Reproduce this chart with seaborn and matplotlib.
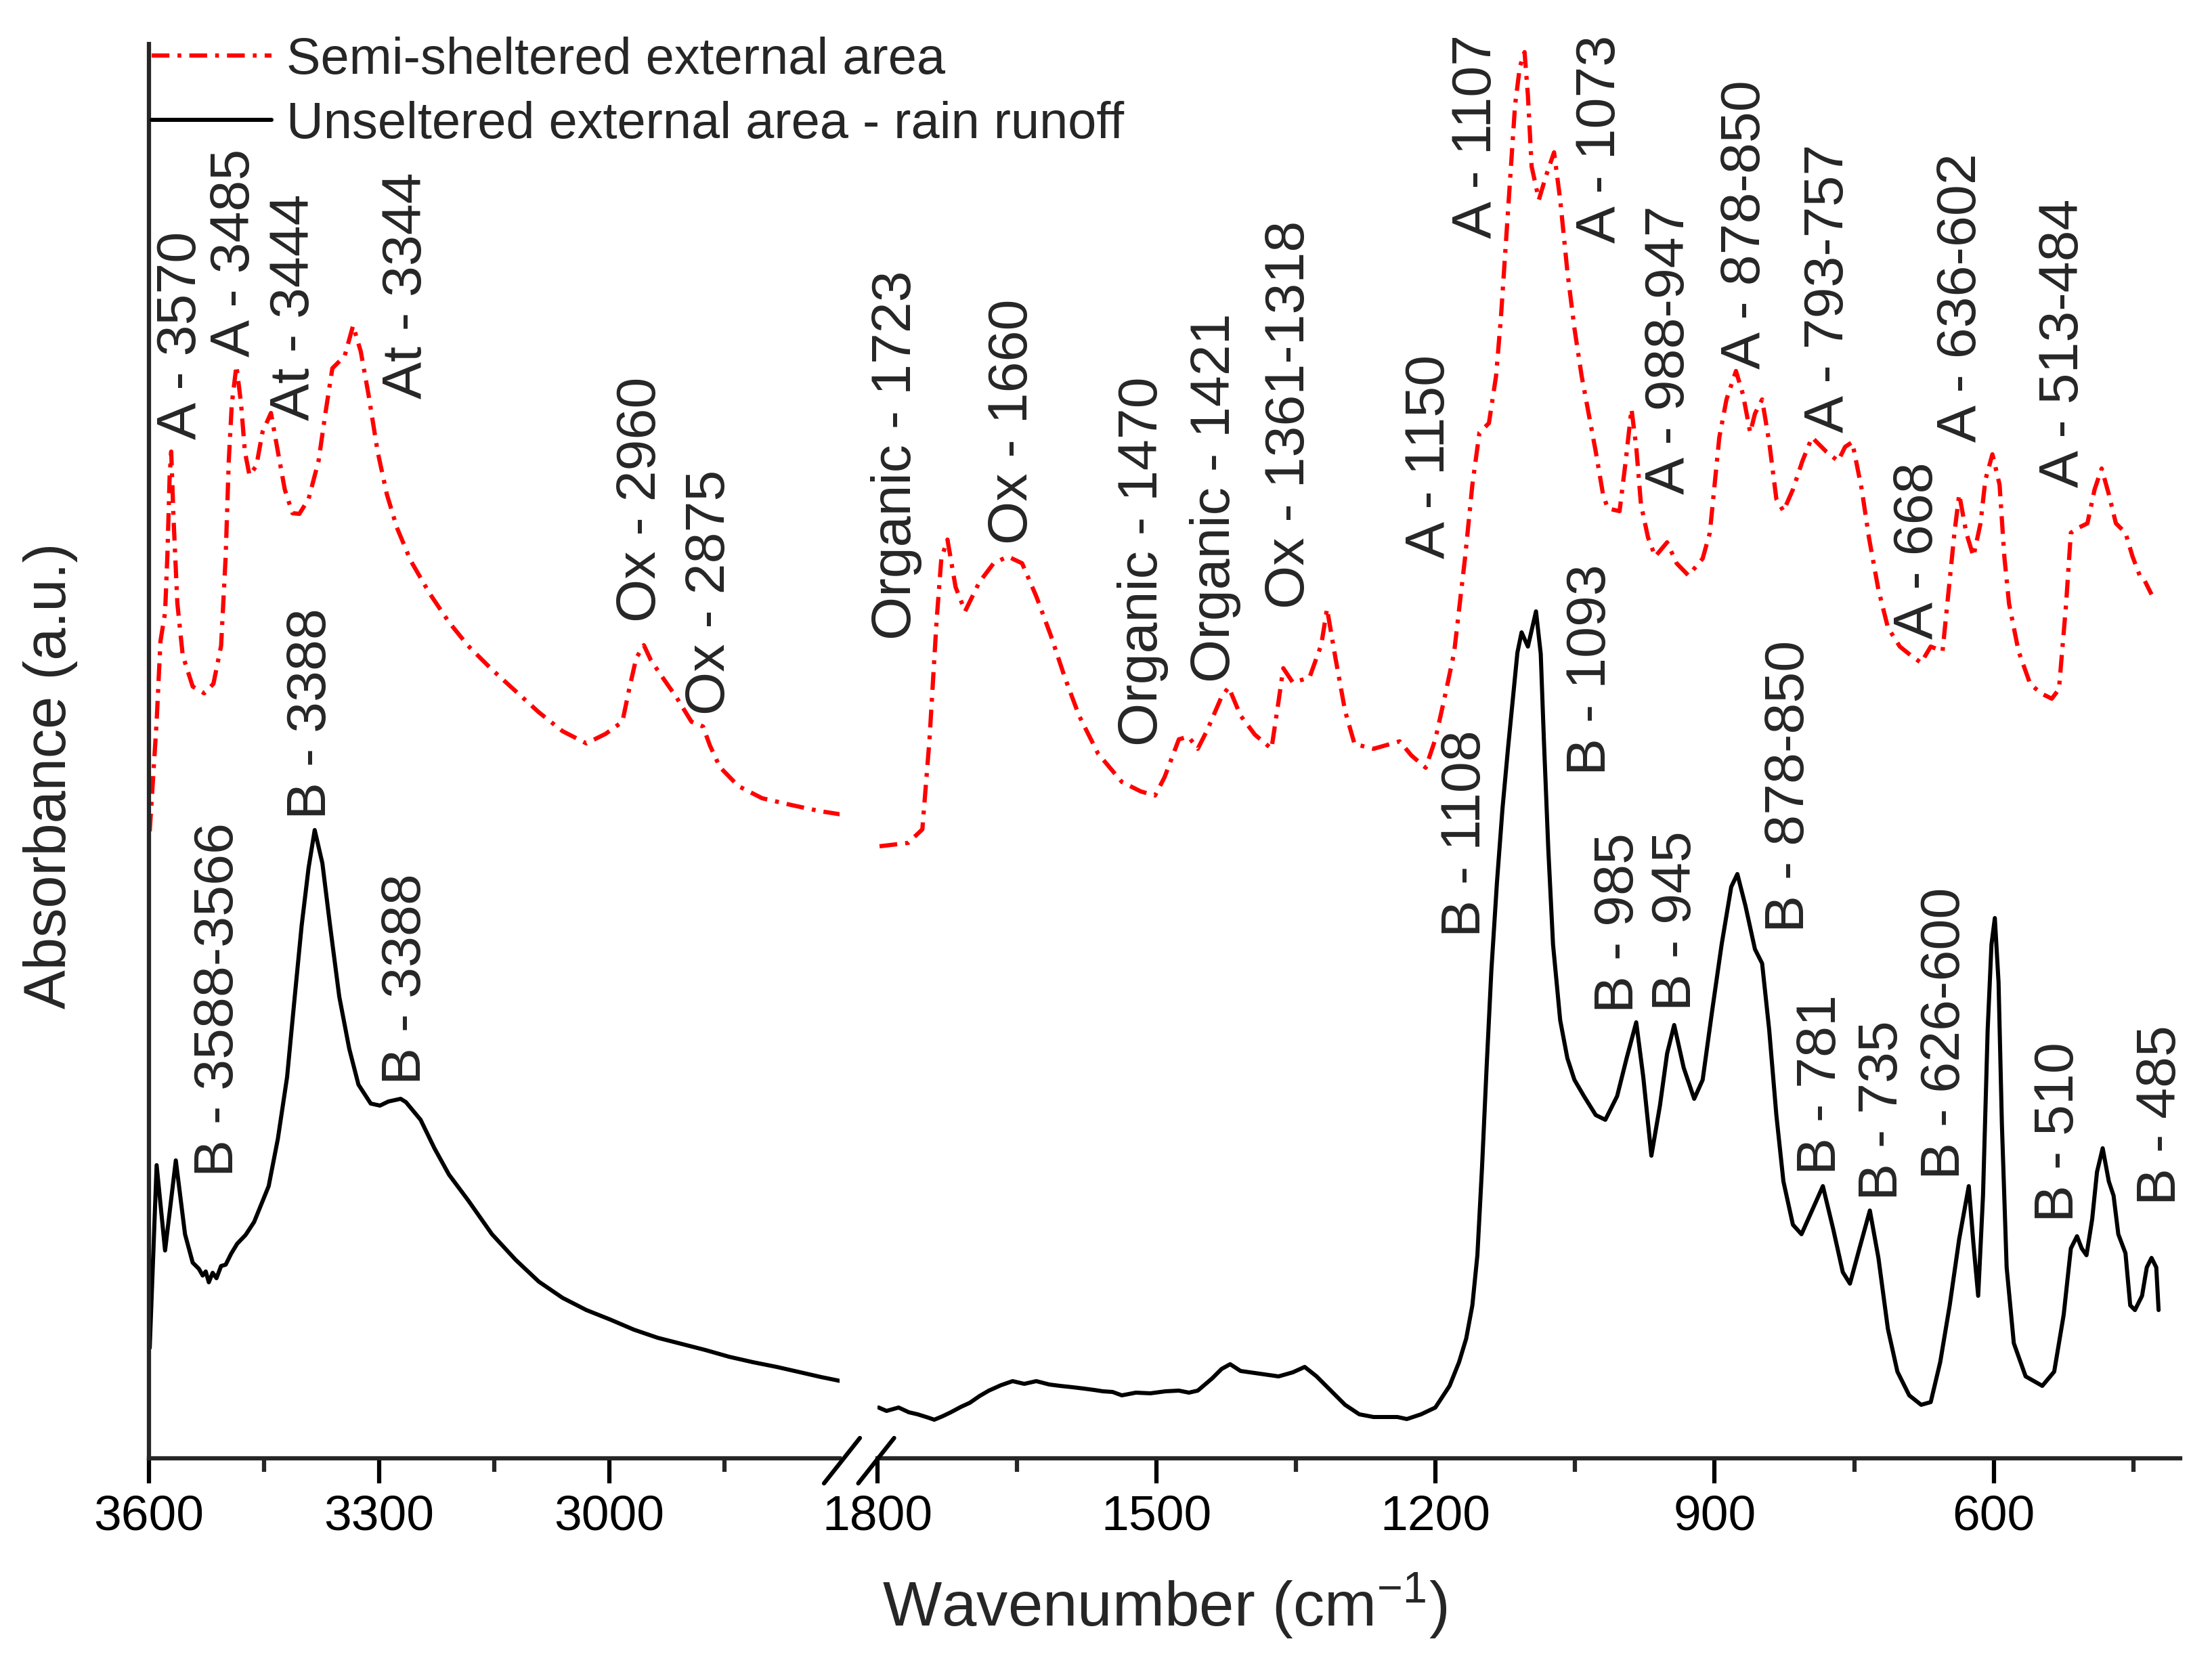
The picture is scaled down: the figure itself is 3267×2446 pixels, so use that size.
import numpy as np
import pandas as pd
import matplotlib
matplotlib.use("Agg")
import matplotlib.pyplot as plt
from matplotlib.lines import Line2D
from matplotlib.ticker import FixedLocator
import seaborn as sns

# ---------------- data ----------------
# Semi-sheltered external area (red, dash-dot) -- high wavenumber segment
red_hi_wn = [3599, 3590, 3585, 3579, 3576, 3573, 3571, 3568, 3563, 3556, 3543, 3528,
             3516, 3506, 3500, 3496, 3492, 3486, 3480, 3475, 3469, 3460, 3452, 3441,
             3432, 3423, 3413, 3404, 3392, 3379, 3370, 3361, 3345, 3334, 3324, 3314,
             3302, 3290, 3277, 3259, 3234, 3209, 3184, 3153, 3122, 3092, 3061, 3030,
             3005, 2983, 2974, 2965, 2955, 2946, 2931, 2912, 2893, 2878, 2869, 2856,
             2832, 2801, 2763, 2726, 2698]
red_hi_abs = [9.26, 10.88, 12.07, 12.49, 13.33, 14.52, 14.87, 13.89, 12.63, 11.86, 11.40, 11.30,
              11.44, 12.00, 13.33, 14.73, 15.58, 16.14, 15.58, 14.87, 14.52, 14.66, 15.16, 15.44,
              14.87, 14.31, 13.96, 13.95, 14.17, 14.73, 15.44, 16.10, 16.28, 16.73, 16.35, 15.72,
              14.87, 14.24, 13.75, 13.26, 12.77, 12.35, 12.00, 11.65, 11.33, 11.02, 10.74, 10.56,
              10.70, 10.88, 11.37, 11.82, 12.01, 11.79, 11.54, 11.23, 10.88, 10.81, 10.53, 10.21,
              9.93, 9.75, 9.65, 9.56, 9.51]

# Semi-sheltered external area -- low wavenumber segment
red_lo_wn = [1797.5, 1766.8, 1751.5, 1743.8, 1736.2, 1731.1, 1724.5, 1715.8, 1705.6, 1690.3,
             1674.9, 1659.6, 1644.3, 1629.0, 1613.6, 1598.3, 1583.1, 1562.7, 1537.1, 1516.7,
             1501.4, 1491.2, 1475.8, 1465.6, 1455.5, 1445.2, 1429.9, 1422.3, 1409.5, 1394.2,
             1376.3, 1368.7, 1363.6, 1353.4, 1335.5, 1322.7, 1316.6, 1307.4, 1297.2, 1287.0,
             1266.6, 1238.5, 1225.8, 1210.5, 1200.2, 1190.0, 1180.0, 1168.1, 1160.4, 1152.8,
             1142.6, 1134.9, 1129.8, 1124.7, 1119.6, 1114.5, 1109.4, 1104.3, 1100.7, 1096.7,
             1088.9, 1081.3, 1072.6, 1066.0, 1058.3, 1050.7, 1043.0, 1035.4, 1027.8, 1020.0,
             1014.9, 1002.2, 995.6, 989.4, 984.3, 979.2, 971.6, 963.9, 951.1, 940.9,
             928.2, 912.9, 905.2, 900.1, 895.0, 887.3, 877.1, 869.5, 861.8, 856.7,
             849.0, 841.4, 833.7, 826.1, 815.9, 805.7, 795.4, 780.1, 767.4, 759.8,
             752.1, 741.9, 734.2, 724.0, 713.8, 701.0, 688.3, 678.1, 667.8, 655.1,
             647.4, 642.3, 637.2, 629.6, 621.9, 614.3, 609.1, 601.5, 593.8, 588.7,
             583.6, 573.4, 560.7, 547.9, 537.7, 530.0, 522.3, 517.2, 509.6, 499.4,
             491.7, 484.1, 476.4, 468.8, 458.5, 450.9, 443.2, 438.1, 430.5]
red_lo_abs = [9.04, 9.09, 9.29, 10.62, 12.37, 13.29, 13.57, 12.87, 12.51, 12.94,
              13.22, 13.32, 13.22, 12.73, 12.16, 11.53, 10.97, 10.41, 9.99, 9.85,
              9.79, 10.06, 10.62, 10.66, 10.48, 10.76, 11.25, 11.39, 10.97, 10.69,
              10.48, 11.18, 11.67, 11.46, 11.53, 12.02, 12.55, 11.81, 11.04, 10.55,
              10.48, 10.59, 10.38, 10.20, 10.62, 11.25, 11.90, 13.32, 14.38, 15.15,
              15.29, 15.99, 16.83, 17.88, 18.94, 19.99, 20.55, 20.77, 20.13, 19.08,
              18.59, 18.94, 19.29, 18.59, 17.53, 16.69, 15.99, 15.43, 14.87, 14.24,
              14.03, 13.99, 14.73, 15.50, 14.94, 14.09, 13.60, 13.32, 13.53, 13.22,
              13.04, 13.29, 13.67, 14.38, 15.08, 15.64, 16.06, 15.71, 15.15, 15.43,
              15.64, 15.01, 14.17, 13.99, 14.31, 14.73, 15.08, 14.87, 14.73, 14.94,
              15.01, 14.31, 13.60, 12.83, 12.27, 11.99, 11.85, 11.75, 11.99, 11.92,
              12.97, 13.67, 14.24, 13.67, 13.32, 13.81, 14.45, 14.83, 14.38, 13.32,
              12.62, 11.92, 11.43, 11.29, 11.22, 11.36, 12.62, 13.67, 13.74, 13.81,
              14.31, 14.62, 14.24, 13.81, 13.67, 13.32, 13.04, 12.97, 12.76]

# Unsheltered external area - rain runoff (black, solid) -- high wavenumber segment
blk_hi_wn = [3599, 3590, 3579, 3565, 3553, 3543, 3535, 3530, 3526, 3522, 3517, 3512, 3506,
             3500, 3493, 3485, 3474, 3463, 3444, 3432, 3420, 3410, 3401, 3392, 3384, 3374,
             3364, 3352, 3339, 3327, 3311, 3299, 3288, 3280, 3272, 3265, 3246, 3228, 3209,
             3184, 3153, 3122, 3092, 3061, 3030, 2999, 2968, 2937, 2906, 2875, 2844, 2813,
             2782, 2751, 2724, 2698]
blk_hi_abs = [1.63, 4.33, 3.07, 4.40, 3.31, 2.89, 2.80, 2.70, 2.76, 2.60, 2.74, 2.66, 2.84,
              2.86, 3.02, 3.17, 3.30, 3.49, 4.02, 4.72, 5.63, 6.82, 7.87, 8.72, 9.28, 8.79,
              7.87, 6.82, 6.05, 5.52, 5.24, 5.21, 5.27, 5.29, 5.31, 5.26, 5.00, 4.58, 4.19,
              3.81, 3.31, 2.93, 2.61, 2.37, 2.19, 2.05, 1.90, 1.78, 1.69, 1.60, 1.50, 1.42,
              1.35, 1.27, 1.20, 1.14]

# Unsheltered external area - rain runoff -- low wavenumber segment
blk_lo_wn = [1798.5, 1790.0, 1777.0, 1766.0, 1756.6, 1745.0, 1738.7, 1730.0, 1720.9, 1710.0,
             1700.5, 1690.0, 1680.0, 1667.0, 1654.5, 1642.0, 1629.0, 1615.0, 1603.5, 1590.0,
             1578.0, 1567.0, 1557.5, 1547.0, 1537.1, 1522.0, 1506.5, 1490.0, 1475.8, 1465.0,
             1455.5, 1440.1, 1429.9, 1420.7, 1409.5, 1389.1, 1368.7, 1353.4, 1340.6, 1327.8,
             1312.5, 1297.2, 1281.9, 1266.6, 1241.0, 1230.8, 1215.5, 1200.2, 1184.9, 1174.7,
             1167.0, 1160.4, 1155.0, 1150.0, 1145.0, 1140.0, 1134.0, 1128.0, 1122.0, 1117.0,
             1112.0, 1107.5, 1100.7, 1092.0, 1086.9, 1083.5, 1078.8, 1073.7, 1066.0, 1058.3,
             1050.7, 1040.5, 1027.8, 1017.5, 1004.8, 994.6, 984.3, 976.7, 968.0, 958.8,
             951.1, 943.5, 933.3, 922.0, 912.9, 902.7, 892.5, 882.2, 875.6, 866.9,
             856.7, 849.0, 841.4, 833.7, 826.1, 815.9, 806.7, 795.4, 783.7, 772.5,
             762.3, 754.6, 744.4, 733.2, 724.0, 713.8, 703.6, 690.9, 678.1, 667.8,
             657.6, 647.4, 637.2, 626.9, 621.9, 616.8, 611.6, 606.6, 602.5, 598.9,
             594.9, 591.3, 586.2, 578.5, 565.8, 547.9, 535.1, 524.9, 517.2, 510.6,
             505.5, 500.4, 494.3, 489.1, 483.0, 476.4, 471.3, 466.2, 458.5, 453.4,
             448.3, 440.7, 435.6, 430.5, 425.4, 422.9]
blk_lo_abs = [0.75, 0.70, 0.75, 0.68, 0.65, 0.60, 0.57, 0.62, 0.68, 0.76,
              0.82, 0.92, 1.00, 1.08, 1.14, 1.10, 1.14, 1.09, 1.07, 1.05,
              1.03, 1.01, 0.99, 0.98, 0.93, 0.97, 0.96, 0.99, 1.00, 0.97,
              1.00, 1.18, 1.32, 1.39, 1.29, 1.25, 1.21, 1.27, 1.35, 1.21,
              1.00, 0.79, 0.65, 0.61, 0.61, 0.58, 0.65, 0.75, 1.07, 1.42,
              1.77, 2.26, 3.00, 4.30, 5.80, 7.20, 8.50, 9.60, 10.50, 11.20,
              11.90, 12.20, 11.99, 12.51, 11.88, 10.60, 9.00, 7.59, 6.47, 5.91,
              5.59, 5.35, 5.07, 5.00, 5.35, 5.91, 6.44, 5.63, 4.47, 5.21,
              5.98, 6.40, 5.77, 5.31, 5.59, 6.61, 7.59, 8.44, 8.63, 8.16,
              7.52, 7.31, 6.33, 5.07, 4.09, 3.45, 3.31, 3.66, 4.02, 3.38,
              2.75, 2.58, 3.10, 3.66, 2.96, 1.91, 1.28, 0.93, 0.79, 0.83,
              1.42, 2.26, 3.24, 4.02, 3.17, 2.40, 3.88, 6.33, 7.59, 7.98,
              7.03, 4.93, 2.82, 1.70, 1.21, 1.07, 1.28, 2.12, 3.10, 3.28,
              3.10, 3.00, 3.53, 4.23, 4.58, 4.09, 3.88, 3.31, 3.03, 2.26,
              2.19, 2.40, 2.82, 2.96, 2.82, 2.19]

series_names = ["Semi-sheltered external area", "Unseltered external area - rain runoff"]

# band labels: text, wavenumber position, absorbance of label start
labels_hi = ["A - 3570", "A - 3485", "At - 3444", "At - 3344", "Ox - 2960", "Ox - 2875",
             "B - 3388", "B - 3588-3566", "B - 3388"]
labels_hi_wn = [3557.6, 3487.9, 3410.3, 3263.8, 2958.5, 2868.5, 3388.2, 3509.1, 3264.7]
labels_hi_y = [15.05, 16.27, 15.33, 15.65, 12.35, 10.98, 9.44, 4.16, 5.52]

labels_lo = ["Organic - 1723", "Ox - 1660", "Organic - 1470", "Organic - 1421",
             "Ox - 1361-1318", "A - 1150", "B - 1108", "A - 1107", "A - 1073", "B - 1093",
             "A - 988-947", "A - 878-850", "A - 793-757", "A - 668", "A - 636-602",
             "A - 513-484", "B - 985", "B - 945", "B - 878-850", "B - 781", "B - 735",
             "B - 626-600", "B - 510", "B - 485"]
labels_lo_wn = [1779.3, 1654.5, 1514.5, 1436.6, 1356.6, 1206.0, 1167.4, 1155.7, 1022.6, 1032.8,
                948.4, 866.9, 777.4, 681.3, 634.8, 524.9, 1002.9, 941.1, 819.9, 785.4,
                719.2, 652.2, 530.0, 420.1]
labels_lo_y = [12.09, 13.50, 10.52, 11.46, 12.55, 13.29, 7.70, 18.02, 17.95, 10.09,
               14.24, 16.09, 15.15, 12.10, 15.01, 14.34, 6.58, 6.61, 7.77, 4.19,
               3.81, 4.12, 3.49, 3.74]

hi_major = [3600, 3300, 3000]
hi_minor = [3450, 3150, 2850]
lo_major = [1800, 1500, 1200, 900, 600]
lo_minor = [1650, 1350, 1050, 750, 450]

# ---------------- style ----------------
sns.set_style("white")
plt.rcParams["font.family"] = ["Liberation Sans", "DejaVu Sans"]
plt.rcParams["mathtext.fontset"] = "custom"
plt.rcParams["mathtext.rm"] = "Liberation Sans"
plt.rcParams["mathtext.it"] = "Liberation Sans:italic"
plt.rcParams["mathtext.bf"] = "Liberation Sans:bold"

W, H = 3267, 2446
DPI = 300
fig = plt.figure(figsize=(W / DPI, H / DPI), dpi=DPI)

def fx(px):
    return px / W

def fy(py):
    return 1 - py / H

ax_bottom_px, ax_top_px = 2154, 65
left_l, left_r = 220, 1240
right_l, right_r = 1295.6, 3219.6

ax1 = fig.add_axes([fx(left_l), fy(ax_bottom_px), fx(left_r - left_l), (ax_bottom_px - ax_top_px) / H])
ax2 = fig.add_axes([fx(right_l), fy(ax_bottom_px), fx(right_r - right_l), (ax_bottom_px - ax_top_px) / H])

RED = "#ff0000"
LW_RED = 1.5
LW_BLK = 1.45
SPW = 1.5
dashdot = (0, (4.2, 1.9, 0.9, 1.9))

df_red_hi = pd.DataFrame({"wn": red_hi_wn, "abs": red_hi_abs})
df_red_lo = pd.DataFrame({"wn": red_lo_wn, "abs": red_lo_abs})
df_blk_hi = pd.DataFrame({"wn": blk_hi_wn, "abs": blk_hi_abs})
df_blk_lo = pd.DataFrame({"wn": blk_lo_wn, "abs": blk_lo_abs})

sns.lineplot(data=df_red_hi, x="wn", y="abs", ax=ax1, color=RED, lw=LW_RED,
             linestyle=dashdot, estimator=None, sort=False)
sns.lineplot(data=df_blk_hi, x="wn", y="abs", ax=ax1, color="black", lw=LW_BLK,
             estimator=None, sort=False)
sns.lineplot(data=df_red_lo, x="wn", y="abs", ax=ax2, color=RED, lw=LW_RED,
             linestyle=dashdot, estimator=None, sort=False)
sns.lineplot(data=df_blk_lo, x="wn", y="abs", ax=ax2, color="black", lw=LW_BLK,
             estimator=None, sort=False)

ymax = (ax_bottom_px - ax_top_px) / 100.0
for ax in (ax1, ax2):
    ax.set_ylim(0, ymax)
    ax.set_yticks([])
    ax.set_xlabel("")
    ax.set_ylabel("")
    ax.set_facecolor("none")
    for s in ("top", "right"):
        ax.spines[s].set_visible(False)
    ax.spines["bottom"].set_linewidth(SPW)
    ax.spines["left"].set_linewidth(SPW)
    ax.tick_params(axis="x", which="major", direction="out", length=8.9, width=SPW,
                   labelsize=17.6, pad=4, bottom=True, colors="black")
    ax.tick_params(axis="x", which="minor", direction="out", length=4.7, width=SPW, bottom=True)
    leg = ax.get_legend()
    if leg is not None:
        leg.remove()

ax2.spines["left"].set_visible(False)

ax1.set_xlim(3600, 2700)
ax1.xaxis.set_major_locator(FixedLocator(hi_major))
ax1.xaxis.set_minor_locator(FixedLocator(hi_minor))
ax2.set_xlim(1800, 400)
ax2.xaxis.set_major_locator(FixedLocator(lo_major))
ax2.xaxis.set_minor_locator(FixedLocator(lo_minor))

# band annotations
TXT = 19.8
for t, x, y in zip(labels_hi, labels_hi_wn, labels_hi_y):
    ax1.text(x, y, t, rotation=90, ha="center", va="bottom", fontsize=TXT)
for t, x, y in zip(labels_lo, labels_lo_wn, labels_lo_y):
    ax2.text(x, y, t, rotation=90, ha="center", va="bottom", fontsize=TXT)

# axis break marks
for c in (left_r + 3, right_l - 2):
    fig.add_artist(Line2D([fx(c - 26), fx(c + 27)], [fy(2191), fy(2124)],
                          color="black", lw=SPW, transform=fig.transFigure))

# legend
handles = [Line2D([], [], color=RED, lw=LW_RED, linestyle=dashdot),
           Line2D([], [], color="black", lw=LW_BLK)]
fig.legend(handles, series_names, loc="upper left",
           bbox_to_anchor=(fx(224), fy(54)), bbox_transform=fig.transFigure,
           frameon=False, fontsize=18.2, handlelength=2.34, handletextpad=0.28,
           labelspacing=0.31, borderpad=0, borderaxespad=0)

# axis titles
fig.text(fx(1720), fy(2402), "Wavenumber (cm$^{-1}$)", ha="center", va="baseline", fontsize=22.2)
fig.text(fx(75), fy(1146), "Absorbance (a.u.)", rotation=90, ha="center", va="center", fontsize=20.8)

fig.savefig("out.png", dpi=DPI)
